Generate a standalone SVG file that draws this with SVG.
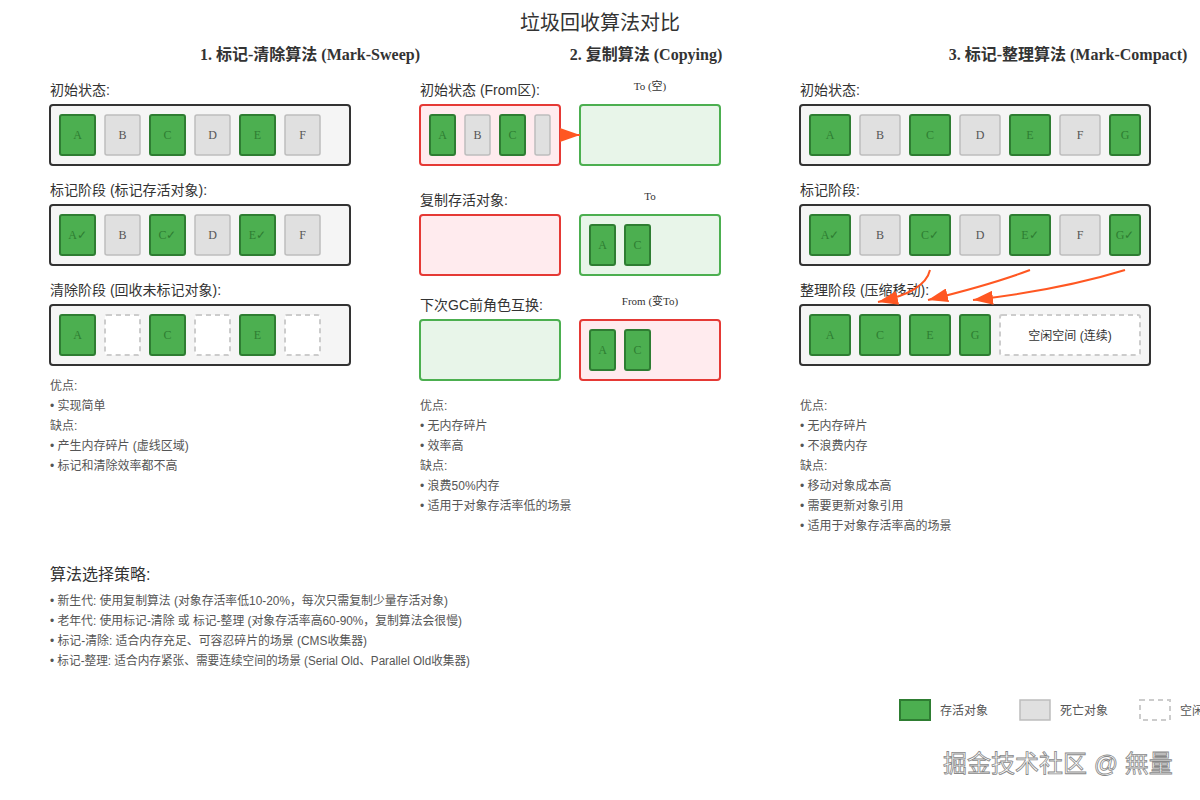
<svg xmlns="http://www.w3.org/2000/svg" width="1200" height="800" viewBox="0 0 1200 800">
<style>
text{font-family:"Liberation Sans","Noto Sans CJK SC",sans-serif;fill:#333}
.sf{font-family:"Liberation Serif","Noto Sans CJK SC",serif}
.t{font-size:14px}
.s{font-size:12px;fill:#555}
.box{fill:#f5f5f5;stroke:#333;stroke-width:2}
.live{fill:#4caf50;stroke:#2e7d32;stroke-width:2}
.dead{fill:#e0e0e0;stroke:#bdbdbd;stroke-width:1.5}
.free{fill:#fff;stroke:#ccc;stroke-width:2;stroke-dasharray:5,4}
.lt{font-family:"Liberation Serif",serif;font-size:12px;fill:#2e7d32;text-anchor:middle}
.dt{font-family:"Liberation Serif",serif;font-size:12px;fill:#555;text-anchor:middle}
.from{fill:#ffebee;stroke:#e53935;stroke-width:2}
.to{fill:#e8f5e9;stroke:#4caf50;stroke-width:2}
.arr{fill:none;stroke:#ff5722;stroke-width:2}
</style>
<defs>
<marker id="ah2" markerWidth="20" markerHeight="14" refX="20" refY="7" orient="auto" markerUnits="userSpaceOnUse"><path d="M0,0L20,7L0,14z" fill="#ff5722"/></marker></defs>
<rect width="1200" height="800" fill="#fff"/>
<text x="600" y="30" font-size="20" text-anchor="middle">垃圾回收算法对比</text>
<text class="sf" x="310" y="60" font-size="16" font-weight="bold" text-anchor="middle">1. 标记-清除算法 (Mark-Sweep)</text>
<text class="sf" x="646" y="60" font-size="16" font-weight="bold" text-anchor="middle">2. 复制算法 (Copying)</text>
<text class="sf" x="1068" y="60" font-size="16" font-weight="bold" text-anchor="middle">3. 标记-整理算法 (Mark-Compact)</text>

<g id="ms-initial">
<text class="t" x="50" y="95">初始状态:</text>
<rect class="box" x="50" y="105" width="300" height="60" rx="3"/>
<rect class="live" x="60" y="115" width="35" height="40" rx="2"/><text class="lt" x="77.5" y="139">A</text>
<rect class="dead" x="105" y="115" width="35" height="40" rx="2"/><text class="dt" x="122.5" y="139">B</text>
<rect class="live" x="150" y="115" width="35" height="40" rx="2"/><text class="lt" x="167.5" y="139">C</text>
<rect class="dead" x="195" y="115" width="35" height="40" rx="2"/><text class="dt" x="212.5" y="139">D</text>
<rect class="live" x="240" y="115" width="35" height="40" rx="2"/><text class="lt" x="257.5" y="139">E</text>
<rect class="dead" x="285" y="115" width="35" height="40" rx="2"/><text class="dt" x="302.5" y="139">F</text>
</g>
<g id="ms-mark">
<text class="t" x="50" y="195">标记阶段 (标记存活对象):</text>
<rect class="box" x="50" y="205" width="300" height="60" rx="3"/>
<rect class="live" x="60" y="215" width="35" height="40" rx="2"/><text class="lt" x="77.5" y="239">A✓</text>
<rect class="dead" x="105" y="215" width="35" height="40" rx="2"/><text class="dt" x="122.5" y="239">B</text>
<rect class="live" x="150" y="215" width="35" height="40" rx="2"/><text class="lt" x="167.5" y="239">C✓</text>
<rect class="dead" x="195" y="215" width="35" height="40" rx="2"/><text class="dt" x="212.5" y="239">D</text>
<rect class="live" x="240" y="215" width="35" height="40" rx="2"/><text class="lt" x="257.5" y="239">E✓</text>
<rect class="dead" x="285" y="215" width="35" height="40" rx="2"/><text class="dt" x="302.5" y="239">F</text>
</g>
<g id="ms-sweep">
<text class="t" x="50" y="295">清除阶段 (回收未标记对象):</text>
<rect class="box" x="50" y="305" width="300" height="60" rx="3"/>
<rect class="live" x="60" y="315" width="35" height="40" rx="2"/><text class="lt" x="77.5" y="339">A</text>
<rect class="free" x="105" y="315" width="35" height="40" rx="2"/>
<rect class="live" x="150" y="315" width="35" height="40" rx="2"/><text class="lt" x="167.5" y="339">C</text>
<rect class="free" x="195" y="315" width="35" height="40" rx="2"/>
<rect class="live" x="240" y="315" width="35" height="40" rx="2"/><text class="lt" x="257.5" y="339">E</text>
<rect class="free" x="285" y="315" width="35" height="40" rx="2"/>
</g>
<g id="ms-notes">
<text class="s" x="50" y="390">优点:</text>
<text class="s" x="50" y="410">• 实现简单</text>
<text class="s" x="50" y="430">缺点:</text>
<text class="s" x="50" y="450">• 产生内存碎片 (虚线区域)</text>
<text class="s" x="50" y="470">• 标记和清除效率都不高</text>
</g>

<g id="cp-initial">
<text class="t" x="420" y="95">初始状态 (From区):</text>
<rect class="from" x="420" y="105" width="140" height="60" rx="3"/>
<rect class="live" x="430" y="115" width="25" height="40" rx="2"/><text class="lt" x="442.5" y="139">A</text>
<rect class="dead" x="465" y="115" width="25" height="40" rx="2"/><text class="dt" x="477.5" y="139">B</text>
<rect class="live" x="500" y="115" width="25" height="40" rx="2"/><text class="lt" x="512.5" y="139">C</text>
<rect class="dead" x="535" y="115" width="15" height="40" rx="2"/>
<text class="sf" x="650" y="90" font-size="11" fill="#555" text-anchor="middle">To (空)</text>
<rect class="to" x="580" y="105" width="140" height="60" rx="3"/>
</g>
<g id="cp-copy">
<text class="t" x="420" y="205">复制存活对象:</text>
<rect class="from" x="420" y="215" width="140" height="60" rx="3"/>
<text class="sf" x="650" y="200" font-size="11" fill="#555" text-anchor="middle">To</text>
<rect class="to" x="580" y="215" width="140" height="60" rx="3"/>
<rect class="live" x="590" y="225" width="25" height="40" rx="2"/><text class="lt" x="602.5" y="249">A</text>
<rect class="live" x="625" y="225" width="25" height="40" rx="2"/><text class="lt" x="637.5" y="249">C</text>
</g>
<g id="cp-swap">
<text class="t" x="420" y="310">下次GC前角色互换:</text>
<rect class="to" x="420" y="320" width="140" height="60" rx="3"/>
<text class="sf" x="650" y="305" font-size="11" fill="#555" text-anchor="middle">From (变To)</text>
<rect class="from" x="580" y="320" width="140" height="60" rx="3"/>
<rect class="live" x="590" y="330" width="25" height="40" rx="2"/><text class="lt" x="602.5" y="354">A</text>
<rect class="live" x="625" y="330" width="25" height="40" rx="2"/><text class="lt" x="637.5" y="354">C</text>
</g>
<g id="cp-notes">
<text class="s" x="420" y="410">优点:</text>
<text class="s" x="420" y="430">• 无内存碎片</text>
<text class="s" x="420" y="450">• 效率高</text>
<text class="s" x="420" y="470">缺点:</text>
<text class="s" x="420" y="490">• 浪费50%内存</text>
<text class="s" x="420" y="510">• 适用于对象存活率低的场景</text>
</g>

<g id="mc-initial">
<text class="t" x="800" y="95">初始状态:</text>
<rect class="box" x="800" y="105" width="350" height="60" rx="3"/>
<rect class="live" x="810" y="115" width="40" height="40" rx="2"/><text class="lt" x="830" y="139">A</text>
<rect class="dead" x="860" y="115" width="40" height="40" rx="2"/><text class="dt" x="880" y="139">B</text>
<rect class="live" x="910" y="115" width="40" height="40" rx="2"/><text class="lt" x="930" y="139">C</text>
<rect class="dead" x="960" y="115" width="40" height="40" rx="2"/><text class="dt" x="980" y="139">D</text>
<rect class="live" x="1010" y="115" width="40" height="40" rx="2"/><text class="lt" x="1030" y="139">E</text>
<rect class="dead" x="1060" y="115" width="40" height="40" rx="2"/><text class="dt" x="1080" y="139">F</text>
<rect class="live" x="1110" y="115" width="30" height="40" rx="2"/><text class="lt" x="1125" y="139">G</text>
</g>
<g id="mc-mark">
<text class="t" x="800" y="195">标记阶段:</text>
<rect class="box" x="800" y="205" width="350" height="60" rx="3"/>
<rect class="live" x="810" y="215" width="40" height="40" rx="2"/><text class="lt" x="830" y="239">A✓</text>
<rect class="dead" x="860" y="215" width="40" height="40" rx="2"/><text class="dt" x="880" y="239">B</text>
<rect class="live" x="910" y="215" width="40" height="40" rx="2"/><text class="lt" x="930" y="239">C✓</text>
<rect class="dead" x="960" y="215" width="40" height="40" rx="2"/><text class="dt" x="980" y="239">D</text>
<rect class="live" x="1010" y="215" width="40" height="40" rx="2"/><text class="lt" x="1030" y="239">E✓</text>
<rect class="dead" x="1060" y="215" width="40" height="40" rx="2"/><text class="dt" x="1080" y="239">F</text>
<rect class="live" x="1110" y="215" width="30" height="40" rx="2"/><text class="lt" x="1125" y="239">G✓</text>
</g>
<g id="mc-compact">
<text class="t" x="800" y="295">整理阶段 (压缩移动):</text>
<rect class="box" x="800" y="305" width="350" height="60" rx="3"/>
<rect class="live" x="810" y="315" width="40" height="40" rx="2"/><text class="lt" x="830" y="339">A</text>
<rect class="live" x="860" y="315" width="40" height="40" rx="2"/><text class="lt" x="880" y="339">C</text>
<rect class="live" x="910" y="315" width="40" height="40" rx="2"/><text class="lt" x="930" y="339">E</text>
<rect class="live" x="960" y="315" width="30" height="40" rx="2"/><text class="lt" x="975" y="339">G</text>
<rect class="free" x="1000" y="315" width="140" height="40" rx="2"/>
<text x="1070" y="340" font-size="12" fill="#666" text-anchor="middle">空闲空间 (连续)</text>
</g>
<g id="mc-notes">
<text class="s" x="800" y="410">优点:</text>
<text class="s" x="800" y="430">• 无内存碎片</text>
<text class="s" x="800" y="450">• 不浪费内存</text>
<text class="s" x="800" y="470">缺点:</text>
<text class="s" x="800" y="490">• 移动对象成本高</text>
<text class="s" x="800" y="510">• 需要更新对象引用</text>
<text class="s" x="800" y="530">• 适用于对象存活率高的场景</text>
</g>

<g id="connectors">
<path d="M560,135L580,135" stroke="#ff5722" stroke-width="2" marker-end="url(#ah2)"/>
<path class="arr" d="M930,270Q925,292 878,302" marker-end="url(#ah2)"/>
<path class="arr" d="M1030,270Q990,285 928,300" marker-end="url(#ah2)"/>
<path class="arr" d="M1125,270Q1060,290 973,300" marker-end="url(#ah2)"/>
</g>

<g id="strategy">
<text x="50" y="580" font-size="16">算法选择策略:</text>
<text class="s" x="50" y="605" textLength="398" lengthAdjust="spacingAndGlyphs">• 新生代: 使用复制算法 (对象存活率低10-20%，每次只需复制少量存活对象)</text>
<text class="s" x="50" y="625" textLength="412" lengthAdjust="spacingAndGlyphs">• 老年代: 使用标记-清除 或 标记-整理 (对象存活率高60-90%，复制算法会很慢)</text>
<text class="s" x="50" y="645" textLength="317" lengthAdjust="spacingAndGlyphs">• 标记-清除: 适合内存充足、可容忍碎片的场景 (CMS收集器)</text>
<text class="s" x="50" y="665" textLength="420" lengthAdjust="spacingAndGlyphs">• 标记-整理: 适合内存紧张、需要连续空间的场景 (Serial Old、Parallel Old收集器)</text>
</g>
<g id="legend">
<rect class="live" x="900" y="700" width="30" height="20"/><text class="s" x="940" y="715">存活对象</text>
<rect class="dead" x="1020" y="700" width="30" height="20"/><text class="s" x="1060" y="715">死亡对象</text>
<rect class="free" x="1140" y="700" width="30" height="20"/><text class="s" x="1180" y="715">空闲</text>
</g>
<text x="943" y="772" font-size="24" stroke="#888" stroke-width="0.8" style="fill:#fff">掘金技术社区 @ 無量</text>
</svg>
